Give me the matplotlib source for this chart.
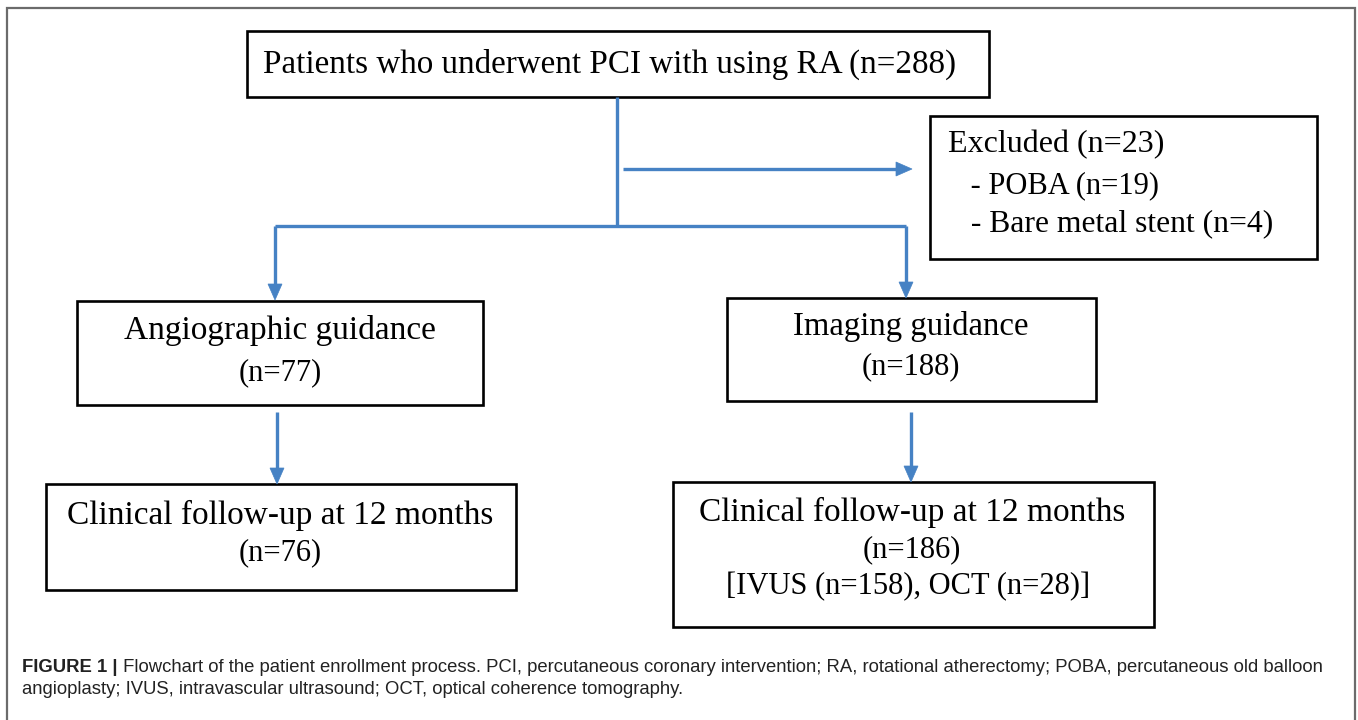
import matplotlib
matplotlib.use("Agg")
import matplotlib.pyplot as plt
from matplotlib.patches import Rectangle, Polygon

# ---------------- content ----------------
top_text = ["Patients who underwent PCI with using RA (n=288)"]
excluded_text = ["Excluded (n=23)", " - POBA (n=19)", " - Bare metal stent (n=4)"]
angio_text = ["Angiographic guidance", "(n=77)"]
imaging_text = ["Imaging guidance", "(n=188)"]
follow_left_text = ["Clinical follow-up at 12 months", "(n=76)"]
follow_right_text = ["Clinical follow-up at 12 months", "(n=186)", "[IVUS (n=158), OCT (n=28)]"]
caption_bold = "FIGURE 1 |"
caption_rest = (" Flowchart of the patient enrollment process. PCI, percutaneous coronary intervention; "
                "RA, rotational atherectomy; POBA, percutaneous old balloon")
caption_line2 = "angioplasty; IVUS, intravascular ultrasound; OCT, optical coherence tomography."

# ---------------- layout (pixel space) ----------------
W, H = 1358, 720
fig = plt.figure(figsize=(W / 100, H / 100), dpi=100)
ax = fig.add_axes([0, 0, 1, 1])
ax.set_xlim(0, W)
ax.set_ylim(H, 0)
ax.axis("off")

SERIF = ["Liberation Serif", "DejaVu Serif"]
SANS = ["Liberation Sans", "DejaVu Sans"]
BLUE = "#4682c4"
BIG, SMALL = 24, 22

# outer frame
ax.plot([7, 7, 1355, 1355], [722, 8, 8, 722], color="#6b6b6b", lw=1.6, solid_joinstyle="miter")

def box(x0, y0, x1, y1):
    ax.add_patch(Rectangle((x0, y0), x1 - x0, y1 - y0, fill=False, ec="black", lw=1.9))

# boxes: (x0, y0, x1, y1)
B_top = (247, 31, 989, 97)
B_exc = (930, 116, 1317, 259)
B_ang = (77, 301, 483, 405)
B_img = (727, 298, 1096, 401)
B_fl = (46, 484, 516, 590)
B_fr = (673, 482, 1154, 627)
for b in (B_top, B_exc, B_ang, B_img, B_fl, B_fr):
    box(*b)

# texts
ax.text(263, 64, top_text[0], fontsize=23.9, family=SERIF, ha="left", va="center")

ax.text(948, 145, excluded_text[0], fontsize=23, family=SERIF, ha="left", va="center")
ax.text(963, 186, excluded_text[1], fontsize=22, family=SERIF, ha="left", va="center")
ax.text(963, 224, excluded_text[2], fontsize=22.8, family=SERIF, ha="left", va="center")

ax.text(280, 330, angio_text[0], fontsize=BIG, family=SERIF, ha="center", va="center")
ax.text(280, 373, angio_text[1], fontsize=SMALL, family=SERIF, ha="center", va="center")

ax.text(911, 326, imaging_text[0], fontsize=23.6, family=SERIF, ha="center", va="center")
ax.text(911, 367, imaging_text[1], fontsize=SMALL, family=SERIF, ha="center", va="center")

ax.text(280, 515, follow_left_text[0], fontsize=BIG, family=SERIF, ha="center", va="center")
ax.text(280, 553, follow_left_text[1], fontsize=SMALL, family=SERIF, ha="center", va="center")

ax.text(912, 512, follow_right_text[0], fontsize=BIG, family=SERIF, ha="center", va="center")
ax.text(912, 550, follow_right_text[1], fontsize=SMALL, family=SERIF, ha="center", va="center")
ax.text(908, 587, follow_right_text[2], fontsize=SMALL, family=SERIF, ha="center", va="center")

# connectors
def line(xs, ys):
    ax.plot(xs, ys, color=BLUE, lw=2.4, solid_capstyle="butt")

def head(x, y, direction):
    L, hw = 16, 7
    if direction == "down":
        pts = [(x - hw, y - L), (x + hw, y - L), (x, y)]
    else:
        pts = [(x - L, y - hw), (x - L, y + hw), (x, y)]
    ax.add_patch(Polygon(pts, closed=True, fc=BLUE, ec=BLUE, lw=0.5))

line([617, 617], [97, 226])
line([275, 906], [226, 226])
line([275, 275], [226, 286])
head(275, 300, "down")
line([906, 906], [226, 284])
head(906, 298, "down")
line([623, 898], [169, 169])
head(912, 169, "right")
line([277, 277], [412, 470])
head(277, 484, "down")
line([911, 911], [412, 468])
head(911, 482, "down")

# caption
CAP = 13.35
t = ax.text(22, 667, caption_bold, fontsize=CAP, family=SANS, fontweight="bold",
            ha="left", va="center", color="#222222")
fig.canvas.draw()
bb = t.get_window_extent()
ax.text(bb.x1, H - 667, caption_rest, fontsize=CAP, family=SANS, ha="left", va="center",
        color="#222222", transform=None)
ax.text(22, 689, caption_line2, fontsize=CAP, family=SANS, ha="left", va="center", color="#222222")

fig.savefig("out.png", dpi=100)
